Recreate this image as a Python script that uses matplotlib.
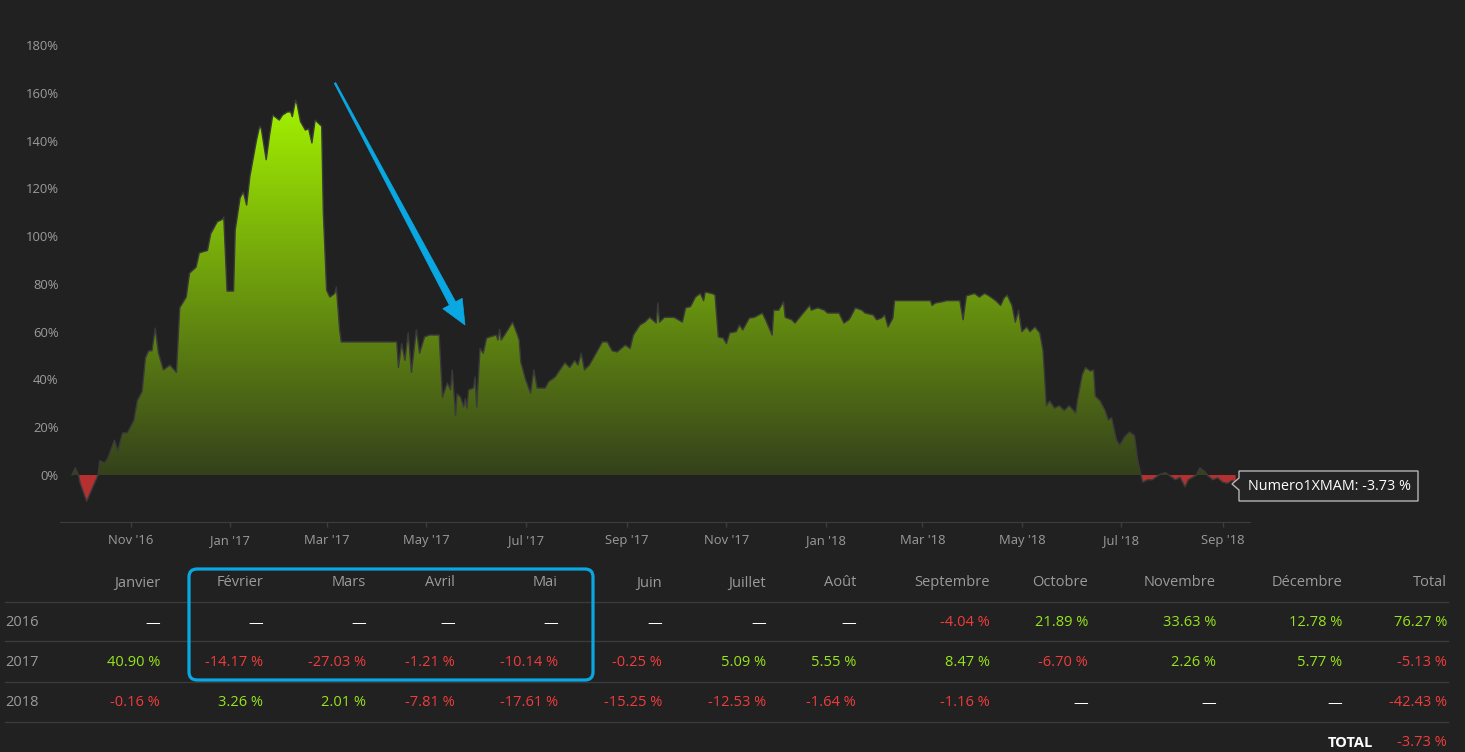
import numpy as np
import matplotlib.pyplot as plt
import matplotlib.dates as mdates
from matplotlib.colors import LinearSegmentedColormap
from matplotlib.patches import Polygon, FancyBboxPatch
from matplotlib.path import Path
from matplotlib.transforms import Affine2D

plt.rcParams['font.family'] = ['Open Sans', 'DejaVu Sans']

W, H = 1465, 752
BG = '#212121'
GREEN = '#97e61a'
RED = '#f23c3c'
GREY = '#9b9b9b'
BLUE = '#0aa8e2'

# equity curve (% gain)
start = np.datetime64('2016-09-26')
day_offset = [0, 2, 4, 5, 9, 16, 17, 20, 22, 26, 28, 31, 34, 38, 40, 43, 45, 47, 49, 51,
              53, 56, 58, 60, 64, 66, 70, 72, 76, 78, 83, 85, 89, 92, 93, 95, 99, 100, 103, 105,
              107, 109, 113, 115, 116, 119, 121, 123, 127, 129, 132, 134, 135, 137, 138, 140, 143, 145, 147, 149,
              153, 154, 156, 158, 161, 162, 164, 165, 199, 200, 202, 204, 206, 208, 211, 213, 216, 219, 225, 227,
              230, 232, 233, 235, 236, 238, 240, 241, 242, 243, 246, 247, 248, 250, 252, 254, 256, 260, 261, 262,
              263, 267, 270, 273, 274, 275, 278, 281, 283, 285, 290, 292, 296, 299, 302, 305, 308, 310, 312, 314,
              317, 325, 328, 331, 334, 339, 342, 344, 348, 351, 354, 358, 359, 360, 363, 369, 374, 376, 379, 382,
              385, 387, 388, 392, 394, 396, 399, 401, 403, 407, 409, 411, 415, 418, 423, 425, 429, 430, 433, 436,
              437, 441, 443, 448, 452, 453, 457, 461, 463, 470, 473, 476, 477, 480, 484, 486, 491, 493, 496, 498,
              500, 503, 504, 526, 527, 529, 533, 536, 544, 546, 548, 553, 556, 559, 561, 564, 566, 569, 571, 573,
              576, 578, 580, 582, 585, 587, 590, 593, 595, 597, 599, 602, 605, 608, 611, 615, 616, 619, 621, 624,
              626, 627, 630, 633, 635, 637, 640, 642, 645, 648, 651, 653, 655, 656, 659, 662, 664, 667, 670, 673,
              676, 679, 682, 684, 687, 689, 691, 694, 696, 699, 702, 705, 708, 711, 713]
equity = [0, 3, 0, -3.5, -11, 0, 6, 5, 7, 14.6, 10, 17.6, 17.6, 23, 31, 35, 49, 52, 52, 61.5,
          51, 44, 45, 46, 43, 70, 74.5, 84.5, 87, 93, 94, 101, 106, 107, 108, 77, 77, 102.5, 116, 118.5,
          113, 125, 140, 146, 145, 132, 142, 150.7, 148.6, 150.7, 152, 152, 150, 157, 155, 148, 144.4, 145, 139, 148.6,
          146, 110, 77.4, 74.5, 76, 78.7, 60.7, 55.7, 55.7, 45, 55, 48, 59.5, 43, 60.7, 51, 57.8, 58.6, 58.6, 32.6,
          38.5, 35.6, 44, 25, 34, 32.6, 28.5, 32, 28, 35.6, 36.4, 41, 28.5, 53, 51, 57.3, 57.8, 58.6, 56.5, 61,
          56.5, 60.7, 64, 58.6, 56.5, 47.3, 39.8, 34.3, 44, 36.4, 36.4, 39, 41, 44, 47, 45, 48, 46, 51, 44,
          46, 55.7, 55.7, 52, 51.5, 54.4, 53, 58.6, 62.8, 64, 66, 63.6, 72, 64, 66, 66, 64, 70, 70.5, 74.5,
          76, 73, 76.6, 76, 75.4, 57.8, 57.3, 55, 59.5, 60, 62.8, 60.7, 65.7, 66, 67.8, 65, 58.6, 69, 69, 72.5,
          66, 65, 63.6, 67.8, 71, 69, 70, 69, 67.8, 67.8, 63.6, 65, 66, 70, 69, 67.8, 67, 65, 65.7, 67,
          62, 65.7, 73, 73, 71, 72, 72.5, 73, 73, 65, 75, 76, 74.5, 76, 75.4, 74, 73, 71, 74, 75.4,
          71, 64, 69, 60, 62, 60, 62, 59.5, 52, 29, 31, 28, 29, 27, 29, 26, 31, 42, 45, 43.5,
          44, 33, 31, 27, 23, 24, 14.6, 12.5, 16, 18, 16.5, 6, 0, -3, -2, -2, -1, 0.4, 1, -0.5,
          -2, -1, -5, -2, -0.8, 0, 3, 1.5, -0.3, -2, -1.2, -3, -3.5, -2.2, -3.73]

y_ticks = [0, 20, 40, 60, 80, 100, 120, 140, 160, 180]

# monthly returns table
months = ['Janvier', 'Février', 'Mars', 'Avril', 'Mai', 'Juin', 'Juillet', 'Août',
          'Septembre', 'Octobre', 'Novembre', 'Décembre', 'Total']
years = ['2016', '2017', '2018']
ret_2016 = [None, None, None, None, None, None, None, None, -4.04, 21.89, 33.63, 12.78, 76.27]
ret_2017 = [40.90, -14.17, -27.03, -1.21, -10.14, -0.25, 5.09, 5.55, 8.47, -6.70, 2.26, 5.77, -5.13]
ret_2018 = [-0.16, 3.26, 2.01, -7.81, -17.61, -15.25, -12.53, -1.64, -1.16, None, None, None, -42.43]
total_return = -3.73
series_name = 'Numero1XMAM'

fig = plt.figure(figsize=(W / 100, H / 100), dpi=100, facecolor=BG)
# pixel coords, y measured from the top
px = Affine2D().scale(1, -1).translate(0, H)

ax = fig.add_axes([60 / W, 1 - 522 / H, 1190 / W, 492 / H])
ax.set_facecolor(BG)

x = mdates.date2num(start + np.array(day_offset).astype('timedelta64[D]'))
v = np.array(equity, dtype=float)

pos = ax.fill_between(x, v, 0, where=v >= 0, interpolate=True, facecolor='none', edgecolor='none')
clip = Path.make_compound_path(*pos.get_paths())
cmap = LinearSegmentedColormap.from_list('eq', ['#35411b', '#a4f400'])
grad = np.linspace(0, 1, 256).reshape(-1, 1)
im = ax.imshow(grad, cmap=cmap, origin='lower', aspect='auto',
               extent=[x[0], x[-1], 0, 158], zorder=1)
im.set_clip_path(clip, transform=ax.transData)
ax.fill_between(x, v, 0, where=v <= 0, interpolate=True, facecolor='#b53131',
                edgecolor='none', zorder=1)
ax.plot(x, v, color='#3a3a3a', lw=1, zorder=2)

x0 = mdates.date2num(start)
ax.set_xlim(x0 - 7.35, x0 + 721.8)
ax.set_ylim(-19.67, 186.3)

ax.xaxis.set_major_locator(mdates.MonthLocator(bymonth=[1, 3, 5, 7, 9, 11]))
ax.xaxis.set_major_formatter(mdates.DateFormatter("%b '%y"))
ax.set_yticks(y_ticks)
ax.set_yticklabels([f'{t}%' for t in y_ticks])
ax.tick_params(axis='y', length=0, pad=1, labelcolor=GREY, labelsize=9.4)
ax.tick_params(axis='x', length=3.6, width=1, color='#3d3d3d', pad=5,
               labelcolor=GREY, labelsize=9.4)
for s in ['top', 'right', 'left']:
    ax.spines[s].set_visible(False)
ax.spines['bottom'].set_color('#3d3d3d')

# tooltip at the last point
tip = Polygon([(1239, 471), (1418, 471), (1418, 501), (1239, 501), (1239, 490),
               (1232, 484), (1239, 478)], closed=True, transform=px,
              facecolor='#242424', edgecolor='#b5b5b5', lw=1, zorder=5)
fig.add_artist(tip)
fig.text(1248, 487, f'{series_name}: {total_return:.2f} %', transform=px, color='white',
         fontsize=10.4, va='center', ha='left', zorder=6)

# blue arrow
arrow = Polygon([(335.7, 82.6), (455.6, 301.8), (462.2, 298.3), (465, 325),
                 (442.8, 308.7), (449.4, 305.2), (334.3, 83.4)], closed=True,
                transform=px, facecolor=BLUE, edgecolor=BLUE, lw=0.5, zorder=6)
fig.add_artist(arrow)

# table
col_right = [160, 263, 366, 455, 558, 662, 766, 856, 990, 1088, 1216, 1342, 1447]
row_y = [623, 663, 703]
for xr, m in zip(col_right, months):
    fig.text(xr, 583, m, transform=px, color=GREY, fontsize=10.5, ha='right', va='center')
for ly in [602, 641, 682, 722]:
    fig.add_artist(plt.Line2D([5, 1448], [ly, ly], transform=px, color='#3a3a3a', lw=1))
for yr, yy, row in zip(years, row_y, [ret_2016, ret_2017, ret_2018]):
    fig.text(5, yy, yr, transform=px, color=GREY, fontsize=10.5, ha='left', va='center')
    for xr, val in zip(col_right, row):
        if val is None:
            fig.text(xr, yy, '—', transform=px, color='white', fontsize=10.5,
                     ha='right', va='center')
        else:
            fig.text(xr, yy, f'{val:.2f} %', transform=px, color=GREEN if val >= 0 else RED,
                     fontsize=10.5, ha='right', va='center')

fig.text(1373, 743, 'TOTAL', transform=px, color='white', fontsize=10.5,
         fontweight='bold', ha='right', va='center')
fig.text(1447, 743, f'{total_return:.2f} %', transform=px, color=RED, fontsize=10.5,
         ha='right', va='center')

# highlight box around Feb-May
box = FancyBboxPatch((189, 569), 404, 111, boxstyle='round,pad=0,rounding_size=8',
                     transform=px, facecolor='none', edgecolor=BLUE, lw=2.3, zorder=6)
fig.add_artist(box)

fig.savefig('out.png', dpi=100, facecolor=BG)
